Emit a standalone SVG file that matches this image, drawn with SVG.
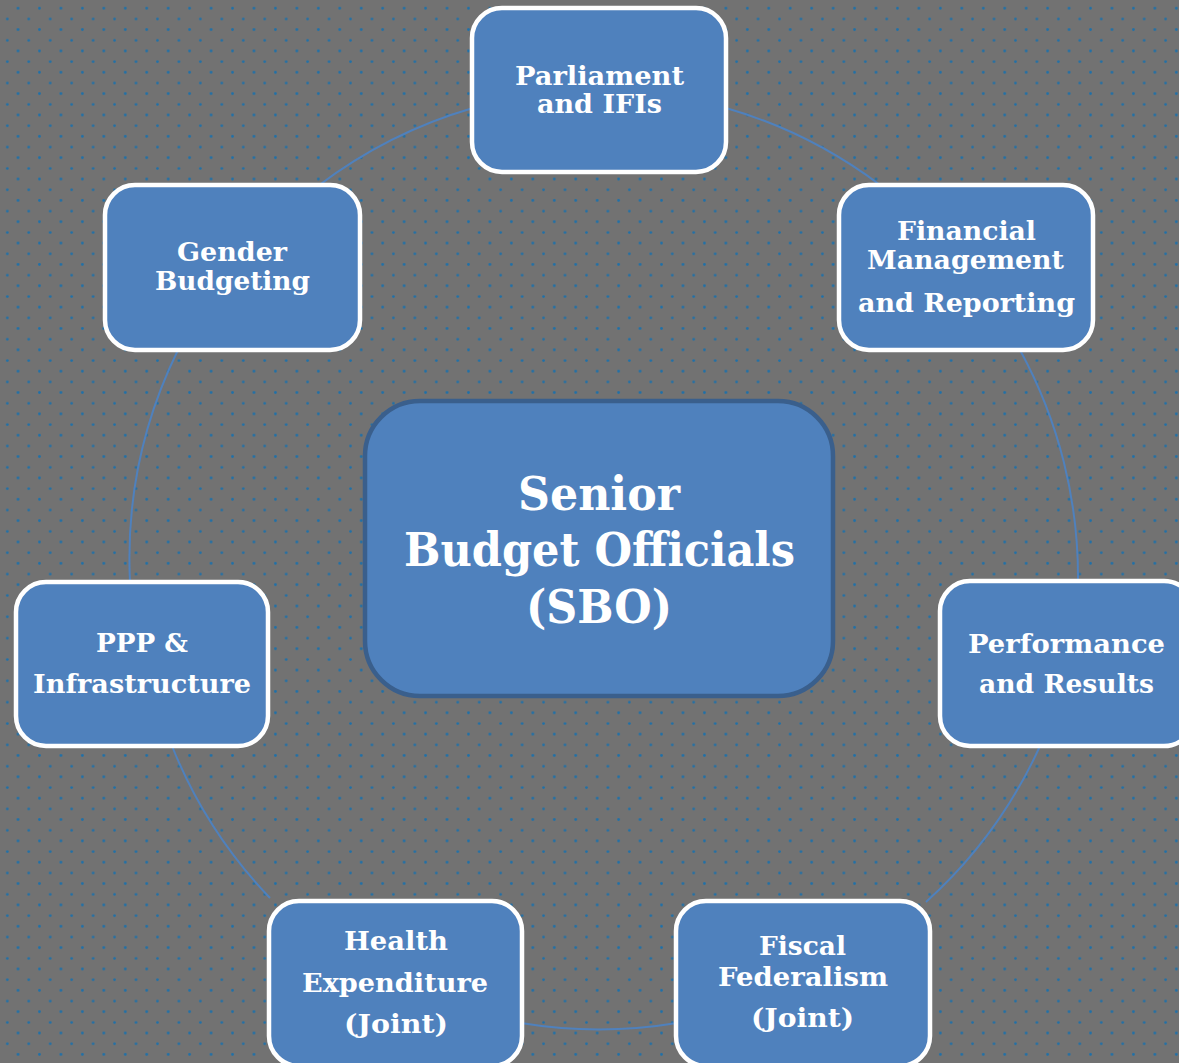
<svg xmlns="http://www.w3.org/2000/svg" width="1179" height="1063" viewBox="0 0 1179 1063">
<defs>
<pattern id="dots" patternUnits="userSpaceOnUse" x="0" y="0" width="21.45" height="21.35">
<circle cx="18" cy="8.3" r="1.4" fill="#1f70a8"/>
<circle cx="7.3" cy="19" r="1.4" fill="#1f70a8"/>
</pattern>
<style>
.node rect{fill:#4f81bd;stroke:#ffffff;stroke-width:4.5}
.center rect{fill:#4f81bd;stroke:#3a5f8c;stroke-width:4.5}
text{font-family:"DejaVu Serif","Liberation Serif",serif;font-weight:bold;fill:#ffffff;text-anchor:middle}
.n text{font-size:26px}
.center text{font-size:46px}
.conn path{fill:none;stroke:#4f81bd;stroke-width:2}
</style>
</defs>
<rect width="1179" height="1063" fill="#727272"/>
<rect width="1179" height="1063" fill="url(#dots)"/>
<g id="connectors" class="conn">
<path d="M 726 108 A 474 474 0 0 1 880 185"/>
<path d="M 1020 350 A 474 474 0 0 1 1078 582"/>
<path d="M 1040 746 A 474 474 0 0 1 926 902"/>
<path d="M 677 1023 A 474 474 0 0 1 521 1023"/>
<path d="M 270 898 A 474 474 0 0 1 172 746"/>
<path d="M 130 582 A 474 474 0 0 1 178 350"/>
<path d="M 318 186 A 474 474 0 0 1 473 108"/>
</g>
<g id="sbo" class="center">
<rect x="365" y="401" width="468" height="295" rx="55"/>
<text x="599" y="510" textLength="162" lengthAdjust="spacingAndGlyphs">Senior</text>
<text x="599.5" y="566" textLength="391" lengthAdjust="spacingAndGlyphs">Budget Officials</text>
<text x="599" y="623" textLength="146" lengthAdjust="spacingAndGlyphs">(SBO)</text>
</g>
<g id="parliament" class="node n">
<rect x="472" y="8" width="254" height="164" rx="30"/>
<text x="599.5" y="85" textLength="169" lengthAdjust="spacingAndGlyphs">Parliament</text>
<text x="599.5" y="113" textLength="125" lengthAdjust="spacingAndGlyphs">and IFIs</text>
</g>
<g id="financial" class="node n">
<rect x="839" y="185" width="254" height="165" rx="30"/>
<text x="966.5" y="240" textLength="139" lengthAdjust="spacingAndGlyphs">Financial</text>
<text x="965.5" y="269" textLength="197" lengthAdjust="spacingAndGlyphs">Management</text>
<text x="966.5" y="312" textLength="217" lengthAdjust="spacingAndGlyphs">and Reporting</text>
</g>
<g id="performance" class="node n">
<rect x="940" y="581" width="254" height="165" rx="30"/>
<text x="1066.5" y="653" textLength="197" lengthAdjust="spacingAndGlyphs">Performance</text>
<text x="1066.5" y="693" textLength="175" lengthAdjust="spacingAndGlyphs">and Results</text>
</g>
<g id="fiscal" class="node n">
<rect x="676" y="901" width="254" height="165" rx="30"/>
<text x="802.5" y="955" textLength="87" lengthAdjust="spacingAndGlyphs">Fiscal</text>
<text x="803" y="986" textLength="170" lengthAdjust="spacingAndGlyphs">Federalism</text>
<text x="802.5" y="1027" textLength="103" lengthAdjust="spacingAndGlyphs">(Joint)</text>
</g>
<g id="health" class="node n">
<rect x="269" y="901" width="253" height="165" rx="30"/>
<text x="396" y="950" textLength="104" lengthAdjust="spacingAndGlyphs">Health</text>
<text x="395" y="992" textLength="186" lengthAdjust="spacingAndGlyphs">Expenditure</text>
<text x="396" y="1033" textLength="104" lengthAdjust="spacingAndGlyphs">(Joint)</text>
</g>
<g id="ppp" class="node n">
<rect x="16" y="582" width="252" height="164" rx="30"/>
<text x="142" y="652" textLength="92" lengthAdjust="spacingAndGlyphs">PPP &amp;</text>
<text x="142" y="693" textLength="218" lengthAdjust="spacingAndGlyphs">Infrastructure</text>
</g>
<g id="gender" class="node n">
<rect x="105" y="185" width="255" height="165" rx="30"/>
<text x="232" y="261" textLength="110" lengthAdjust="spacingAndGlyphs">Gender</text>
<text x="232.5" y="290" textLength="155" lengthAdjust="spacingAndGlyphs">Budgeting</text>
</g>
</svg>
